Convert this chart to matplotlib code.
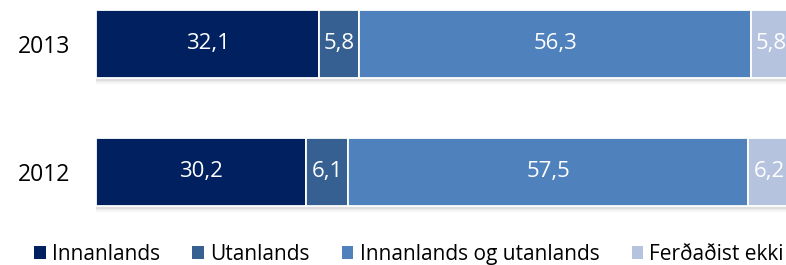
import matplotlib
matplotlib.use("Agg")
import matplotlib.pyplot as plt
from matplotlib.patches import Patch
import numpy as np

years = ["2012", "2013"]
series = ["Innanlands", "Utanlands", "Innanlands og utanlands", "Ferðaðist ekki"]
values = {
    "Innanlands": [30.2, 32.1],
    "Utanlands": [6.1, 5.8],
    "Innanlands og utanlands": [57.5, 56.3],
    "Ferðaðist ekki": [6.2, 5.8],
}
colors = ["#002060", "#376092", "#4F81BD", "#B6C3DE"]

plt.rcParams['font.family'] = ['Open Sans', 'DejaVu Sans']

W, H = 786, 265
fig = plt.figure(figsize=(W / 100, H / 100), dpi=100)
# axes spans x from 96px to ~791px, y from 0 to 216px
ax = fig.add_axes([96 / W, 49 / H, 695 / W, 216 / H])
ax.set_xlim(0, 100)
ax.set_ylim(-44 / 128, 1 + 44 / 128)

ypos = np.arange(len(years))
bh = 68 / 128

# shadows
for k, a in enumerate([0.2, 0.13, 0.08, 0.04]):
    ax.barh(ypos - bh / 2 - (k + 0.5) * 1.4 / 128, 100, height=1.4 / 128, left=0,
            color="#000000", alpha=a, linewidth=0)

left = np.zeros(len(years))
for s, c in zip(series, colors):
    v = np.array(values[s])
    ax.barh(ypos, v, height=bh, left=left, color=c, edgecolor="white", linewidth=1.3)
    for i in range(len(years)):
        ax.text(left[i] + v[i] / 2, ypos[i], f"{v[i]:.1f}".replace(".", ","),
                ha="center", va="center", color="white", fontsize=16)
    left += v

ax.set_yticks(ypos)
ax.set_yticklabels(years, fontsize=16.5)
ax.tick_params(axis="y", length=0, pad=18.5)
ax.set_xticks([])
for sp in ax.spines.values():
    sp.set_visible(False)

handles = [Patch(facecolor=c, edgecolor="none") for c in colors]
fig.legend(handles, series, loc="center", bbox_to_anchor=(409 / W, 1 - 254.5 / H),
           ncol=4, frameon=False, fontsize=15, handlelength=0.55, handleheight=0.55,
           handletextpad=0.3, columnspacing=1.55, borderaxespad=0, borderpad=0)

fig.savefig("out.png", dpi=100)
